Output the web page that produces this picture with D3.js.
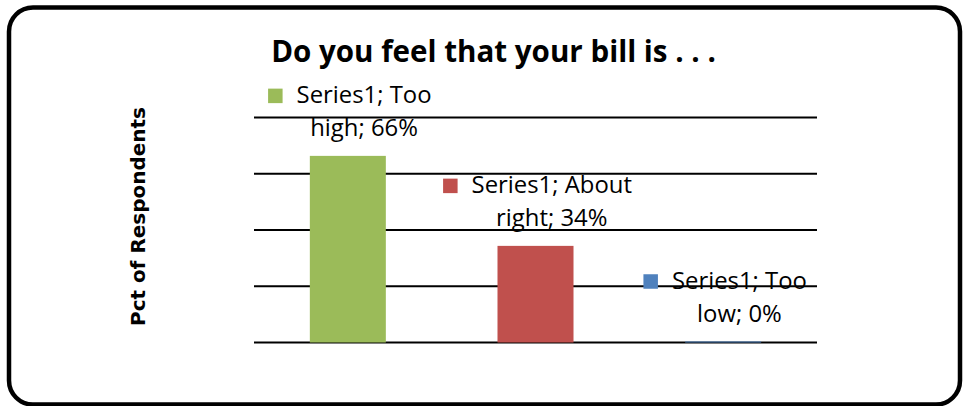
<!DOCTYPE html>
<html>
<head>
<meta charset="utf-8">
<script src="https://cdn.jsdelivr.net/npm/d3@7/dist/d3.min.js"></script>
<style>
  html, body { margin: 0; padding: 0; background: #fff; }
  svg { display: block; }
</style>
</head>
<body>
<svg id="chart" width="963" height="406"></svg>
<script>
// Survey answers: share of respondents per answer
const categories = ["Too high", "About right", "Too low"];
const seriesName = "Series1";
const values = [66, 34, 0];
const labelLines = [["Series1; Too", "high; 66%"], ["Series1; About", "right; 34%"], ["Series1; Too", "low; 0%"]];
const colors = ["#9BBB59", "#C0504D", "#4F81BD"];
const yTicks = [0, 20, 40, 60, 80];

const title = "Do you feel that your bill is . . .";
const yTitle = "Pct of Respondents";

const svg = d3.select("#chart");

// size a text element so that it spans the given width
function fitSize(sel, size, width) {
  sel.attr("font-size", size);
  const w = sel.node().getComputedTextLength();
  sel.attr("font-size", size * width / w);
  return size * width / w;
}

// rounded frame around the whole chart
svg.append("rect")
  .attr("x", 9).attr("y", 7.5)
  .attr("width", 951).attr("height", 397)
  .attr("rx", 24).attr("ry", 24)
  .attr("fill", "#fff")
  .attr("stroke", "#000")
  .attr("stroke-width", 4.5);

const plot = { left: 254, right: 817, top: 117.5, bottom: 342.5 };

const x = d3.scaleBand()
  .domain(categories)
  .range([plot.left, plot.right])
  .paddingInner(0.595)
  .paddingOuter(0.2975);

const y = d3.scaleLinear()
  .domain([0, 80])
  .range([plot.bottom, plot.top]);

// horizontal gridlines (no tick labels shown)
svg.append("g")
  .selectAll("line")
  .data(yTicks)
  .join("line")
  .attr("x1", plot.left).attr("x2", plot.right)
  .attr("y1", d => y(d)).attr("y2", d => y(d))
  .attr("stroke", "#000")
  .attr("stroke-width", 2);

// bars
svg.append("g")
  .selectAll("rect")
  .data(values)
  .join("rect")
  .attr("x", (d, i) => x(categories[i]))
  .attr("width", x.bandwidth())
  .attr("y", d => y(d) - 1)
  .attr("height", d => y(0) - y(d) + 1)
  .attr("fill", (d, i) => colors[i]);

// chart title
const titleText = svg.append("text")
  .attr("x", 493.5).attr("y", 62)
  .attr("text-anchor", "middle")
  .attr("font-family", "'Open Sans', sans-serif")
  .attr("font-weight", 700)
  .attr("fill", "#000")
  .text(title);
fitSize(titleText, 25, 445);

// y axis title
const yTitleText = svg.append("text")
  .attr("transform", "translate(145,216.5) rotate(-90)")
  .attr("text-anchor", "middle")
  .attr("font-family", "'DejaVu Sans', sans-serif")
  .attr("font-weight", 700)
  .attr("fill", "#000")
  .text(yTitle);
fitSize(yTitleText, 17, 219);

// data labels: legend key + two text lines above each bar
const labelFont = "'Open Sans', sans-serif";
const probe = svg.append("text").attr("font-family", labelFont).text(labelLines[0][0]);
const labelSize = fitSize(probe, 20, 135);
probe.remove();
const keySize = 14.5;
const keyGap = 14;
const labels = svg.append("g");
values.forEach((v, i) => {
  const cx = x(categories[i]) + x.bandwidth() / 2;
  const base1 = y(v) - 53.5;
  const base2 = base1 + 33;
  const g = labels.append("g");
  const t1 = g.append("text")
    .attr("font-family", labelFont)
    .attr("font-size", labelSize)
    .attr("fill", "#000")
    .attr("y", base1)
    .text(labelLines[i][0]);
  const w1 = t1.node().getComputedTextLength();
  const start = cx - (keySize + keyGap + w1) / 2 + 2;
  t1.attr("x", start + keySize + keyGap);
  g.append("rect")
    .attr("x", start)
    .attr("y", base1 - 7.5 - keySize / 2)
    .attr("width", keySize).attr("height", keySize)
    .attr("fill", colors[i]);
  g.append("text")
    .attr("font-family", labelFont)
    .attr("font-size", labelSize)
    .attr("fill", "#000")
    .attr("text-anchor", "middle")
    .attr("x", start + keySize + keyGap + w1 / 2)
    .attr("y", base2)
    .text(labelLines[i][1]);
});
</script>
</body>
</html>
